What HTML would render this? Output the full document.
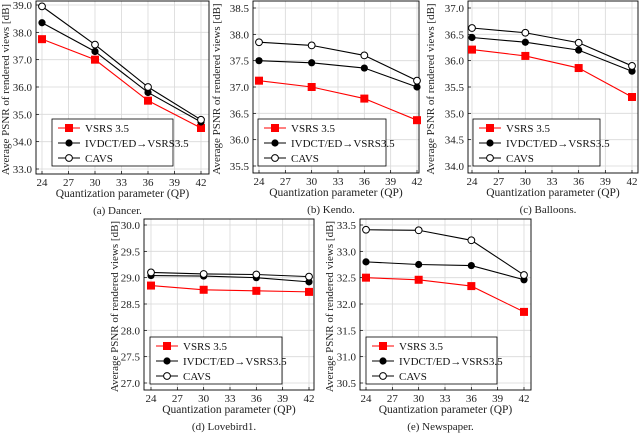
<!DOCTYPE html>
<html><head><meta charset="utf-8"><style>
body{margin:0;background:#fff;}
svg{display:block;font-family:"Liberation Serif","DejaVu Serif",serif;}
</style></head><body>
<svg id="fig" width="640" height="433" viewBox="0 0 640 433"></svg>
<script>
const qpCategories = [24, 30, 36, 42];
const xTickLabels = [24, 27, 30, 33, 36, 39, 42];
const seriesNames = ["VSRS 3.5", "IVDCT/ED\u2192VSRS3.5", "CAVS"];

const dancerVsrs = [37.75, 37.0, 35.5, 34.5];
const dancerIvdct = [38.35, 37.3, 35.8, 34.72];
const dancerCavs = [38.95, 37.55, 36.0, 34.8];
const dancerYTicks = [33.0, 34.0, 35.0, 36.0, 37.0, 38.0, 39.0];

const kendoVsrs = [37.12, 37.0, 36.78, 36.37];
const kendoIvdct = [37.5, 37.46, 37.36, 37.0];
const kendoCavs = [37.85, 37.79, 37.6, 37.12];
const kendoYTicks = [35.5, 36.0, 36.5, 37.0, 37.5, 38.0, 38.5];

const balloonsVsrs = [36.21, 36.09, 35.86, 35.31];
const balloonsIvdct = [36.44, 36.35, 36.2, 35.8];
const balloonsCavs = [36.62, 36.53, 36.34, 35.9];
const balloonsYTicks = [34.0, 34.5, 35.0, 35.5, 36.0, 36.5, 37.0];

const lovebirdVsrs = [28.85, 28.77, 28.75, 28.73];
const lovebirdIvdct = [29.04, 29.03, 29.0, 28.92];
const lovebirdCavs = [29.1, 29.07, 29.06, 29.02];
const lovebirdYTicks = [27.0, 27.5, 28.0, 28.5, 29.0, 29.5, 30.0];

const newspaperVsrs = [32.5, 32.46, 32.34, 31.85];
const newspaperIvdct = [32.8, 32.75, 32.73, 32.46];
const newspaperCavs = [33.41, 33.4, 33.21, 32.55];
const newspaperYTicks = [30.5, 31.0, 31.5, 32.0, 32.5, 33.0, 33.5];

const NS = "http://www.w3.org/2000/svg";
const svg = document.getElementById('fig');
function mk(tag, attrs, parent, text) {
  const e = document.createElementNS(NS, tag);
  for (const k in attrs) e.setAttribute(k, attrs[k]);
  if (text !== undefined) e.textContent = text;
  (parent || svg).appendChild(e);
  return e;
}

const panels = [
  {id:'dancer', caption:'(a) Dancer.', box:[36,1,209,174], px:[42,201], py:[169,5], yt:dancerYTicks, data:[dancerVsrs,dancerIvdct,dancerCavs], leg:[52,119,173,166], ylx:9},
  {id:'kendo', caption:'(b) Kendo.', box:[253,1,419,173], px:[259,417], py:[166,8], yt:kendoYTicks, data:[kendoVsrs,kendoIvdct,kendoCavs], leg:[258,119,386,166], ylx:220},
  {id:'balloons', caption:'(c) Balloons.', box:[468,1,638,173], px:[472,632], py:[166,8], yt:balloonsYTicks, data:[balloonsVsrs,balloonsIvdct,balloonsCavs], leg:[473,119,600,166], ylx:434},
  {id:'lovebird', caption:'(d) Lovebird1.', box:[144,219,314,390], px:[151,309], py:[383,225], yt:lovebirdYTicks, data:[lovebirdVsrs,lovebirdIvdct,lovebirdCavs], leg:[150,337,282,384], ylx:118},
  {id:'newspaper', caption:'(e) Newspaper.', box:[360,219,531,390], px:[366,524], py:[383,225], yt:newspaperYTicks, data:[newspaperVsrs,newspaperIvdct,newspaperCavs], leg:[366,337,497,384], ylx:333}
];

function marker(g, type, x, y) {
  let m;
  if (type === 0) m = mk('rect', {x:x-4, y:y-4, width:8, height:8, fill:'#ff0000'}, g);
  else if (type === 1) m = mk('circle', {cx:x, cy:y, r:3.6, fill:'#000'}, g);
  else m = mk('circle', {cx:x, cy:y, r:3.4, fill:'#fff', stroke:'#000', 'stroke-width':1}, g);
  
  
  return m;
}

panels.forEach(p => {
  const g = mk('g', {});
  
  
  const [x0,y0,x1,y1] = p.box;
  const xMin = qpCategories[0], xMax = qpCategories[qpCategories.length-1];
  const yMin = p.yt[0], yMax = p.yt[p.yt.length-1];
  const sx = v => p.px[0] + (v - xMin) / (xMax - xMin) * (p.px[1] - p.px[0]);
  const sy = v => p.py[0] + (v - yMin) / (yMax - yMin) * (p.py[1] - p.py[0]);
  xTickLabels.forEach(t => {
    const l = mk('line', {x1:sx(t), x2:sx(t), y1:y0, y2:y1, stroke:'#d8d8d8', 'stroke-width':0.8}, g);
    
    
    const tl = mk('text', {x:sx(t), y:y1+12, 'font-size':11, 'text-anchor':'middle', fill:'#222'}, g, t);
    
    
    mk('line', {x1:sx(t), x2:sx(t), y1:y1, y2:y1-3, stroke:'#000', 'stroke-width':0.7}, g);
  });
  p.yt.forEach(t => {
    const l = mk('line', {x1:x0, x2:x1, y1:sy(t), y2:sy(t), stroke:'#d8d8d8', 'stroke-width':0.8}, g);
    
    
    const tl = mk('text', {x:x0-4, y:sy(t)+4, 'font-size':11, 'text-anchor':'end', fill:'#222'}, g, t.toFixed(1));
    
    
    mk('line', {x1:x0, x2:x0+3, y1:sy(t), y2:sy(t), stroke:'#000', 'stroke-width':0.7}, g);
  });
  const frame = mk('rect', {x:x0, y:y0, width:x1-x0, height:y1-y0, fill:'none', stroke:'#000', 'stroke-width':0.9}, g);
  
  
  const colors = ['#ff0000', '#000', '#000'];
  p.data.forEach((ser, si) => {
    const pts = ser.map((v, i) => sx(qpCategories[i]) + ',' + sy(v)).join(' ');
    const pl = mk('polyline', {points:pts, fill:'none', stroke:colors[si], 'stroke-width':1.1}, g);
    
    
    ser.forEach((v, i) => marker(g, si, sx(qpCategories[i]), sy(v)));
  });
  const xt = mk('text', {x:(x0+x1)/2, y:y1+23, 'font-size':11.5, 'text-anchor':'middle', fill:'#222'}, g, 'Quantization parameter (QP)');
  
  
  const yc = (y0+y1)/2 + 2;
  const yt = mk('text', {x:p.ylx, y:yc, 'font-size':11, 'text-anchor':'middle', fill:'#222', transform:'rotate(-90 '+p.ylx+' '+yc+')'}, g, 'Average PSNR of rendered views [dB]');
  
  
  const cap = mk('text', {x:(x0+x1)/2 - 5, y:y1+40, 'font-size':11, 'text-anchor':'middle', fill:'#222'}, g, p.caption);
  
  
  const [lx0,ly0,lx1,ly1] = p.leg;
  const lg = mk('g', {}, g);
  
  
  mk('rect', {x:lx0, y:ly0, width:lx1-lx0, height:ly1-ly0, fill:'#fff', stroke:'#000', 'stroke-width':0.8}, lg);
  seriesNames.forEach((n, si) => {
    const ry = ly0 + 9 + si * 15;
    const e = mk('g', {}, lg);
    
    
    mk('line', {x1:lx0+6, x2:lx0+28, y1:ry, y2:ry, stroke:colors[si], 'stroke-width':1.1}, e);
    marker(e, si, lx0+17, ry);
    mk('text', {x:lx0+33, y:ry+4, 'font-size':11, fill:'#111'}, e, n);
  });
});
</script>
</body></html>
